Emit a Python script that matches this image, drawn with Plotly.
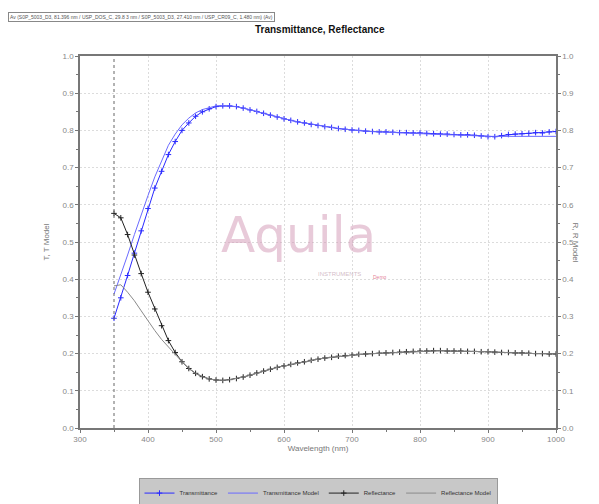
import plotly.graph_objects as go

wavelength = [350, 360, 370, 380, 390, 400, 410, 420, 430, 440, 450, 460, 470, 480, 490,
              500, 510, 520, 530, 540, 550, 560, 570, 580, 590, 600, 610, 620, 630, 640,
              650, 660, 670, 680, 690, 700, 710, 720, 730, 740, 750, 760, 770, 780, 790,
              800, 810, 820, 830, 840, 850, 860, 870, 880, 890, 900, 910, 920, 930, 940,
              950, 960, 970, 980, 990, 1000]

transmittance = [0.295, 0.350, 0.410, 0.470, 0.530, 0.590, 0.645, 0.690, 0.735, 0.770,
                 0.800, 0.820, 0.838, 0.850, 0.858, 0.864, 0.866, 0.866, 0.864, 0.860,
                 0.855, 0.851, 0.846, 0.841, 0.836, 0.831, 0.827, 0.823, 0.820, 0.816,
                 0.813, 0.810, 0.808, 0.805, 0.803, 0.801, 0.800, 0.798, 0.797, 0.796,
                 0.796, 0.795, 0.794, 0.794, 0.793, 0.793, 0.792, 0.791, 0.790, 0.790,
                 0.789, 0.788, 0.788, 0.787, 0.785, 0.783, 0.783, 0.786, 0.789, 0.790,
                 0.791, 0.792, 0.794, 0.793, 0.796, 0.797]

transmittance_model = [0.360, 0.410, 0.465, 0.520, 0.575, 0.625, 0.675, 0.720, 0.760, 0.790,
                       0.815, 0.833, 0.847, 0.856, 0.862, 0.866, 0.867, 0.866, 0.864, 0.860,
                       0.855, 0.851, 0.846, 0.841, 0.836, 0.831, 0.827, 0.823, 0.820, 0.816,
                       0.813, 0.810, 0.808, 0.805, 0.803, 0.801, 0.800, 0.798, 0.797, 0.796,
                       0.795, 0.794, 0.793, 0.793, 0.792, 0.791, 0.790, 0.789, 0.789, 0.788,
                       0.788, 0.787, 0.787, 0.786, 0.785, 0.784, 0.784, 0.784, 0.784, 0.784,
                       0.784, 0.784, 0.784, 0.784, 0.784, 0.784]

reflectance = [0.577, 0.565, 0.520, 0.465, 0.415, 0.365, 0.320, 0.275, 0.235, 0.203,
               0.178, 0.160, 0.147, 0.138, 0.132, 0.129, 0.128, 0.130, 0.133, 0.137,
               0.142, 0.148, 0.153, 0.158, 0.163, 0.167, 0.171, 0.175, 0.178, 0.182,
               0.185, 0.188, 0.190, 0.193, 0.195, 0.196, 0.198, 0.199, 0.200, 0.201,
               0.202, 0.203, 0.204, 0.205, 0.206, 0.207, 0.207, 0.208, 0.208, 0.207,
               0.207, 0.207, 0.206, 0.206, 0.205, 0.205, 0.204, 0.203, 0.203, 0.202,
               0.202, 0.201, 0.200, 0.200, 0.199, 0.199]

reflectance_model = [0.382, 0.385, 0.365, 0.342, 0.315, 0.288, 0.262, 0.238, 0.217, 0.197,
                     0.178, 0.160, 0.147, 0.138, 0.132, 0.129, 0.128, 0.130, 0.133, 0.137,
                     0.142, 0.148, 0.153, 0.158, 0.163, 0.167, 0.171, 0.175, 0.178, 0.182,
                     0.185, 0.188, 0.190, 0.193, 0.195, 0.196, 0.198, 0.199, 0.200, 0.201,
                     0.202, 0.203, 0.204, 0.205, 0.206, 0.207, 0.207, 0.208, 0.208, 0.207,
                     0.207, 0.207, 0.206, 0.206, 0.205, 0.205, 0.204, 0.203, 0.203, 0.202,
                     0.202, 0.201, 0.200, 0.200, 0.199, 0.199]

start_wavelength = 350
chart_title = "Transmittance, Reflectance"
file_label = "Av (S0P_5003_D3, 81.396 nm / USP_DOS_C, 29.8 3 nm / S0P_5003_D3, 27.410 nm / USP_CR09_C, 1.480 nm) (Av)"

FONT = "Liberation Sans, Arial, sans-serif"
AXIS_COLOR = "#777777"
GRID_COLOR = "#dcdcdc"
TICK_FONT = dict(family=FONT, size=8, color="#888888")

fig = go.Figure()
fig.add_trace(go.Scatter(x=wavelength, y=transmittance, name="Transmittance",
                         mode="lines+markers", line=dict(color="#2a2aff", width=1),
                         marker=dict(symbol="cross-thin", size=4, line=dict(color="#2a2aff", width=1))))
fig.add_trace(go.Scatter(x=wavelength, y=transmittance_model, name="Transmittance Model",
                         mode="lines", line=dict(color="#6a6aff", width=1)))
fig.add_trace(go.Scatter(x=wavelength, y=reflectance, name="Reflectance", yaxis="y2",
                         mode="lines+markers", line=dict(color="#222222", width=1),
                         marker=dict(symbol="cross-thin", size=4, line=dict(color="#222222", width=1))))
fig.add_trace(go.Scatter(x=wavelength, y=reflectance_model, name="Reflectance Model", yaxis="y2",
                         mode="lines", line=dict(color="#8a8a8a", width=1)))

fig.add_shape(type="line", xref="x", yref="paper", x0=start_wavelength, x1=start_wavelength,
              y0=0, y1=1, line=dict(color="#666666", width=1, dash="dot"))

yax_common = dict(range=[0, 1], dtick=0.1, tickformat=".1f", ticks="outside", ticklen=3,
                  tickcolor=AXIS_COLOR, showline=True, linecolor=AXIS_COLOR, linewidth=1.5,
                  tickfont=TICK_FONT, zeroline=False,
                  minor=dict(dtick=0.05, ticks="outside", ticklen=2, tickcolor=AXIS_COLOR, showgrid=False))

fig.update_layout(
    width=591, height=496,
    margin=dict(l=72, r=43, t=48, b=76, autoexpand=False),
    plot_bgcolor="white", paper_bgcolor="white",
    font=dict(family=FONT, color="#666666"),
    showlegend=True,
    xaxis=dict(range=[300, 1000], dtick=100, ticks="outside", ticklen=3, tickcolor=AXIS_COLOR,
               showline=True, linecolor=AXIS_COLOR, linewidth=1.5, mirror=True,
               showgrid=True, gridcolor=GRID_COLOR, griddash="2px,2px", gridwidth=1,
               tickfont=TICK_FONT, zeroline=False,
               title=dict(text="Wavelength (nm)", font=dict(family=FONT, size=8, color="#777777"), standoff=2),
               minor=dict(dtick=50, ticks="outside", ticklen=2, tickcolor=AXIS_COLOR, showgrid=False)),
    yaxis=dict(**yax_common, showgrid=True, gridcolor=GRID_COLOR, griddash="2px,2px", mirror=False,
               title=dict(text="T, T Model", font=dict(family=FONT, size=8, color="#777777"), standoff=12)),
    yaxis2=dict(**yax_common, overlaying="y", side="right", showgrid=False),
    legend=dict(orientation="h", x=0.5, xanchor="center", yref="container", y=0.022, yanchor="middle",
                bgcolor="#c8c8c8", bordercolor="#999999", borderwidth=1,
                font=dict(family=FONT, size=6, color="#333333"),
                itemwidth=30, tracegroupgap=0),
    annotations=[
        dict(text="<b>" + chart_title + "</b>", xref="paper", yref="paper", x=0.504, y=1.0,
             yshift=34, showarrow=False, font=dict(family=FONT, size=10, color="#111111")),
        dict(text=file_label, xref="paper", yref="paper", x=-0.152, xanchor="left", y=1.0, yshift=44,
             showarrow=False, font=dict(family=FONT, size=5, color="#555555"),
             bordercolor="#888888", borderwidth=1, borderpad=1),
        dict(text="R, R Model", xref="paper", yref="paper", x=1.0, xshift=26, y=0.5,
             textangle=90, showarrow=False, font=dict(family=FONT, size=8, color="#777777")),
        dict(text="Aquila", xref="paper", yref="paper", x=0.458, y=0.518, showarrow=False,
             font=dict(family="DejaVu Sans, sans-serif", size=50, color="rgba(210,150,180,0.5)")),
        dict(text="INSTRUMENTS", xref="paper", yref="paper", x=0.546, y=0.415, showarrow=False,
             font=dict(family=FONT, size=6, color="rgba(180,140,160,0.6)")),
        dict(text="Demo", xref="paper", yref="paper", x=0.63, y=0.405, showarrow=False,
             font=dict(family=FONT, size=5, color="rgba(220,90,120,0.8)")),
    ],
)

fig.write_html("out.html")
